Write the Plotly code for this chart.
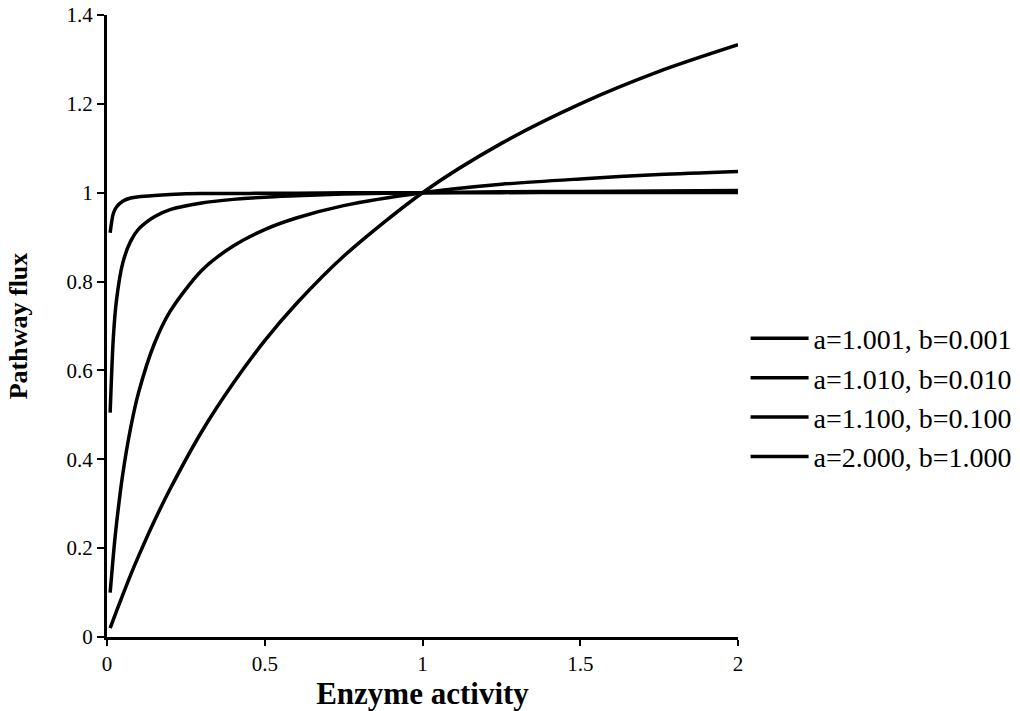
import plotly.graph_objects as go

# Enzyme activity (x) and pathway flux (y) for each parameter pair
enzyme_activity = [0.01, 0.02, 0.03, 0.05, 0.075, 0.1, 0.15, 0.2, 0.3, 0.4, 0.5,
                   0.6, 0.75, 1.0, 1.25, 1.5, 1.75, 2.0]

flux_a1001 = [0.910, 0.953, 0.968, 0.981, 0.988, 0.991, 0.994, 0.996, 0.998, 0.998, 0.999,
              0.999, 0.9997, 1.000, 1.0002, 1.0003, 1.0004, 1.0005]
flux_a1010 = [0.505, 0.673, 0.758, 0.842, 0.891, 0.918, 0.946, 0.962, 0.977, 0.985, 0.990,
              0.993, 0.997, 1.000, 1.002, 1.003, 1.004, 1.005]
flux_a1100 = [0.100, 0.183, 0.254, 0.367, 0.471, 0.550, 0.660, 0.733, 0.825, 0.880, 0.917,
              0.943, 0.971, 1.000, 1.019, 1.031, 1.041, 1.048]
flux_a2000 = [0.020, 0.039, 0.058, 0.095, 0.140, 0.182, 0.261, 0.333, 0.462, 0.571, 0.667,
              0.750, 0.857, 1.000, 1.111, 1.200, 1.273, 1.333]

series_names = ["a=1.001, b=0.001", "a=1.010, b=0.010", "a=1.100, b=0.100", "a=2.000, b=1.000"]
series_values = [flux_a1001, flux_a1010, flux_a1100, flux_a2000]

x_tick_vals = [0, 0.5, 1, 1.5, 2]
x_tick_text = ["0", "0.5", "1", "1.5", "2"]
y_tick_vals = [0, 0.2, 0.4, 0.6, 0.8, 1.0, 1.2, 1.4]
y_tick_text = ["0", "0.2", "0.4", "0.6", "0.8", "1", "1.2", "1.4"]

SERIF = "Liberation Serif, Times New Roman, serif"

fig = go.Figure()
for name, vals in zip(series_names, series_values):
    fig.add_trace(go.Scatter(
        x=enzyme_activity, y=vals, name=name, mode="lines",
        line=dict(color="black", width=3.5, shape="spline", smoothing=0.8),
    ))

fig.update_layout(
    width=1020, height=711,
    margin=dict(l=107, r=282, t=15, b=74, autoexpand=False),
    paper_bgcolor="white", plot_bgcolor="white",
    font=dict(family=SERIF, color="black", size=21),
    showlegend=True,
    legend=dict(
        x=1.012, y=0.52, xanchor="left", yanchor="top",
        font=dict(family=SERIF, size=28, color="black"),
        itemwidth=58, tracegroupgap=0, bgcolor="rgba(0,0,0,0)",
    ),
)

fig.update_xaxes(
    range=[0, 2], tickvals=x_tick_vals, ticktext=x_tick_text,
    showgrid=False, zeroline=False,
    showline=True, linecolor="black", linewidth=3,
    ticks="outside", ticklen=6, tickwidth=2, tickcolor="black",
    tickfont=dict(family=SERIF, size=21),
    title=dict(text="<b>Enzyme activity</b>", standoff=2,
               font=dict(family=SERIF, size=31)),
)
fig.update_yaxes(
    range=[0, 1.4], tickvals=y_tick_vals, ticktext=y_tick_text,
    showgrid=False, zeroline=False,
    showline=True, linecolor="black", linewidth=3,
    ticks="outside", ticklen=7, tickwidth=2, tickcolor="black",
    tickfont=dict(family=SERIF, size=21),
    title=dict(text="<b>Pathway flux</b>", standoff=32,
               font=dict(family=SERIF, size=26)),
)

fig.write_html("out.html")
